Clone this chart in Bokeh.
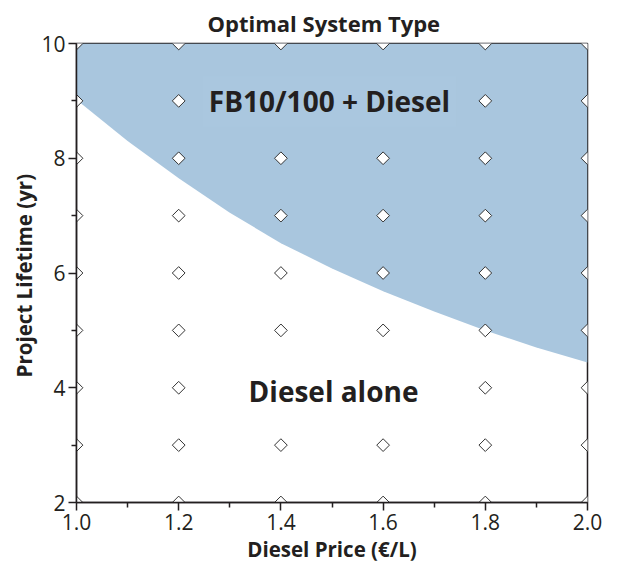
import numpy as np
from bokeh.plotting import figure
from bokeh.models import FixedTicker, PrintfTickFormatter, Range1d, ColumnDataSource, Label
from bokeh.embed import file_html
from bokeh.resources import INLINE

# boundary between regions
boundary_x = [1.0, 1.1, 1.2, 1.3, 1.4, 1.5, 1.6, 1.7, 1.8, 1.9, 2.0]
boundary_y = [9.02, 8.3, 7.65, 7.05, 6.52, 6.08, 5.68, 5.33, 5.0, 4.7, 4.44]

# grid of evaluated points
grid_price = [1.0, 1.2, 1.4, 1.6, 1.8, 2.0]
grid_life = [2, 3, 4, 5, 6, 7, 8, 9, 10]

x_ticks = [1.0, 1.2, 1.4, 1.6, 1.8, 2.0]
x_minor = [1.1, 1.3, 1.5, 1.7, 1.9]
y_ticks = [2, 4, 6, 8, 10]
y_minor = [3, 5, 7, 9]

FONT = "Open Sans"
DARK = "#231f20"
BLUE = "#a9c6de"

p = figure(frame_width=511, frame_height=459, output_backend="svg", toolbar_location=None,
           x_range=Range1d(1.0, 2.0), y_range=Range1d(2, 10),
           min_border_left=5, min_border_right=22, min_border_top=5, min_border_bottom=5,
           title="Optimal System Type")
p.margin = (0, 0, 0, 7)
p.title.align = "left"
p.title.offset = 131
p.title.text_font = FONT
p.title.text_font_size = "22px"
p.title.text_font_style = "bold"
p.title.text_color = DARK
p.title.standoff = 11

p.grid.visible = False
p.outline_line_color = DARK
p.outline_line_width = 1.5

src = ColumnDataSource(dict(x=boundary_x, y1=boundary_y, y2=[10] * len(boundary_x)))
p.varea(x="x", y1="y1", y2="y2", source=src, fill_color=BLUE)

gx, gy = np.meshgrid(grid_price, grid_life)
p.scatter(gx.ravel(), gy.ravel(), marker="square", angle=np.pi / 4, size=9,
          fill_color="white", line_color="#333333", line_width=1)

p.add_layout(Label(x=1.495, y=8.99, text="FB10/100 + Diesel", text_align="center", text_baseline="middle",
                   text_font=FONT, text_font_size="28px", text_font_style="bold", text_color=DARK,
                   background_fill_color="#aac7df", padding=6))
p.add_layout(Label(x=1.503, y=3.95, text="Diesel alone", text_align="center", text_baseline="middle",
                   text_font=FONT, text_font_size="28px", text_font_style="bold", text_color=DARK,
                   background_fill_color="white", padding=6))

for ax in (p.xaxis[0], p.yaxis[0]):
    ax.axis_line_color = DARK
    ax.axis_line_width = 1.5
    ax.major_tick_line_color = DARK
    ax.minor_tick_line_color = DARK
    ax.major_tick_line_width = 1.5
    ax.minor_tick_line_width = 1.5
    ax.major_tick_out = 8
    ax.major_tick_in = 0
    ax.minor_tick_out = 5
    ax.minor_tick_in = 0
    ax.major_label_text_font = FONT
    ax.major_label_text_font_size = "21px"
    ax.major_label_text_color = DARK
    ax.axis_label_text_font = FONT
    ax.axis_label_text_font_size = "20.5px"
    ax.axis_label_text_font_style = "bold"
    ax.axis_label_text_color = DARK
    ax.major_label_standoff = 3

p.xaxis.ticker = FixedTicker(ticks=x_ticks, minor_ticks=x_minor)
p.xaxis.formatter = PrintfTickFormatter(format="%.1f")
p.yaxis.ticker = FixedTicker(ticks=y_ticks, minor_ticks=y_minor)
p.xaxis.axis_label = "Diesel Price (€/L)"
p.yaxis.axis_label = "Project Lifetime  (yr)"
p.xaxis.axis_label_standoff = 2
p.yaxis.axis_label_standoff = 0

open("out.html", "w").write(file_html(p, INLINE))
